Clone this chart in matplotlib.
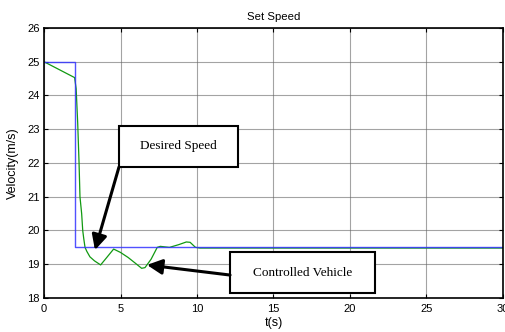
import matplotlib
matplotlib.use("Agg")
import matplotlib.pyplot as plt
from matplotlib.patches import Rectangle

plt.rcParams["font.family"] = ["Liberation Sans", "DejaVu Sans"]

# Desired speed (step)
t_desired = [0, 2.0, 2.0, 30]
v_desired = [25, 25, 19.5, 19.5]

# Controlled vehicle speed
t_ctrl = [0, 2.0, 2.1, 2.2, 2.29, 2.35, 2.46, 2.53, 2.6, 2.68, 2.8, 3.0, 3.3, 3.7,
          4.1, 4.55, 5.0, 5.5, 6.0, 6.38, 6.6, 7.0, 7.4, 7.6, 8.2, 8.8, 9.3, 9.55, 9.9, 10.2, 30]
v_ctrl = [25, 24.53, 24.2, 23.2, 22.0, 21.0, 20.5, 20.0, 19.75, 19.5, 19.38, 19.22, 19.1, 18.98,
          19.2, 19.45, 19.35, 19.2, 19.02, 18.88, 18.9, 19.15, 19.5, 19.53, 19.5, 19.58, 19.66, 19.65, 19.5, 19.48, 19.48]

x_ticks = [0, 5, 10, 15, 20, 25, 30]
y_ticks = [18, 19, 20, 21, 22, 23, 24, 25, 26]

fig = plt.figure(figsize=(5.06, 3.32), dpi=100)
ax = fig.add_axes([0.087, 0.1024, 0.907, 0.8133])

ax.plot(t_ctrl, v_ctrl, color="#119911", lw=0.9)
ax.plot(t_desired, v_desired, color="#3333ff", lw=1.0, alpha=0.85)

ax.set_xlim(0, 30)
ax.set_ylim(18, 26)
ax.set_xticks(x_ticks)
ax.set_yticks(y_ticks)
ax.grid(True, color="#666666", lw=0.8, alpha=0.6)
ax.tick_params(direction="in", labelsize=8, length=3, top=True, right=True)
ax.tick_params(axis="x", pad=4.5)
ax.tick_params(axis="y", pad=3)
for s in ax.spines.values():
    s.set_linewidth(1.2)

ax.set_title("Set Speed", fontsize=8.2, pad=6)
ax.set_xlabel("t(s)", fontsize=9, labelpad=2)
ax.set_ylabel("Velocity(m/s)", fontsize=9)
ax.yaxis.set_label_coords(-0.054, 0.5)

serif = "Liberation Serif"
# Desired Speed box
ax.add_patch(Rectangle((4.9, 21.88), 7.78, 1.22, fill=True, facecolor="white",
                       edgecolor="black", lw=1.5, zorder=5))
ax.text(8.79, 22.49, "Desired Speed", family=serif, fontsize=9.5, ha="center", va="center", zorder=6)
ax.annotate("", xy=(3.33, 19.42), xytext=(4.9, 21.88),
            arrowprops=dict(arrowstyle="-|>,head_length=0.9,head_width=0.45", lw=2.2,
                            color="black", shrinkA=0, shrinkB=0), zorder=6)

# Controlled Vehicle box
ax.add_patch(Rectangle((12.16, 18.15), 9.47, 1.21, fill=True, facecolor="white",
                       edgecolor="black", lw=1.5, zorder=5))
ax.text(16.9, 18.755, "Controlled Vehicle", family=serif, fontsize=9.5, ha="center", va="center", zorder=6)
ax.annotate("", xy=(6.73, 18.98), xytext=(12.16, 18.68),
            arrowprops=dict(arrowstyle="-|>,head_length=0.9,head_width=0.45", lw=2.2,
                            color="black", shrinkA=0, shrinkB=0), zorder=6)

fig.savefig("out.png", dpi=100)
